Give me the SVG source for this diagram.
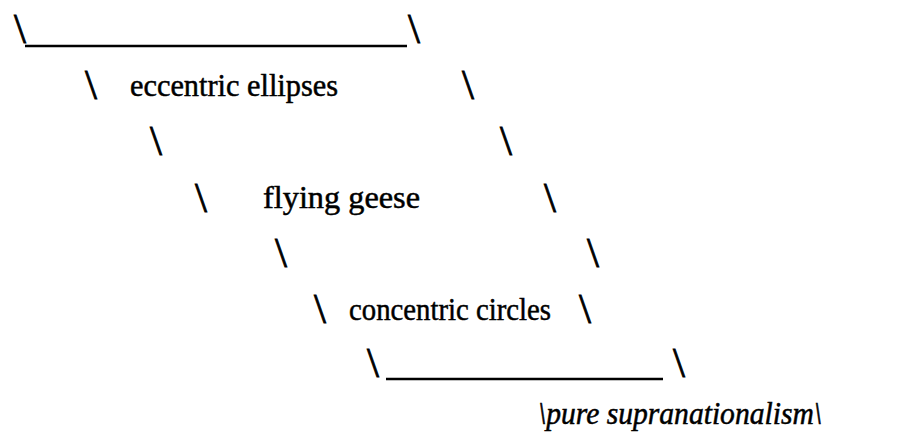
<svg xmlns="http://www.w3.org/2000/svg" width="924" height="433" viewBox="0 0 924 433">
<style>
.bs{font-family:"Liberation Serif","Times New Roman",serif;font-size:43px;fill:#000;stroke:#000;stroke-width:0.8}
.t{font-family:"Liberation Serif","Times New Roman",serif;font-size:32px;fill:#000;stroke:#000;stroke-width:0.5}
.it{font-family:"Liberation Serif","Times New Roman",serif;font-size:31px;font-style:italic;fill:#000;stroke:#000;stroke-width:0.5}
.ul{stroke:#000;stroke-width:2.4;fill:none}
</style>
<rect width="924" height="433" fill="#fff"/>
<g id="frame">
<text class="bs" x="14" y="43">\</text>
<line class="ul" x1="25" y1="46" x2="407" y2="46"/>
<text class="bs" x="408" y="43">\</text>
<text class="bs" x="85" y="99">\</text>
<text class="bs" x="462" y="99">\</text>
<text class="bs" x="150" y="155">\</text>
<text class="bs" x="500" y="155">\</text>
<text class="bs" x="195" y="212">\</text>
<text class="bs" x="544" y="212">\</text>
<text class="bs" x="275" y="267">\</text>
<text class="bs" x="587" y="267">\</text>
<text class="bs" x="314" y="323">\</text>
<text class="bs" x="579" y="323">\</text>
<text class="bs" x="367" y="377">\</text>
<line class="ul" x1="386" y1="379" x2="663" y2="379"/>
<text class="bs" x="673" y="377">\</text>
</g>
<g id="eccentric-ellipses"><text class="t" x="130" y="96" textLength="208" lengthAdjust="spacingAndGlyphs">eccentric ellipses</text></g>
<g id="flying-geese"><text class="t" x="263" y="208" textLength="157" lengthAdjust="spacingAndGlyphs">flying geese</text></g>
<g id="concentric-circles"><text class="t" x="349" y="320" textLength="202" lengthAdjust="spacingAndGlyphs">concentric circles</text></g>
<g id="pure-supranationalism"><text class="it" x="538" y="424" textLength="284" lengthAdjust="spacingAndGlyphs">\pure supranationalism\</text></g>
</svg>
